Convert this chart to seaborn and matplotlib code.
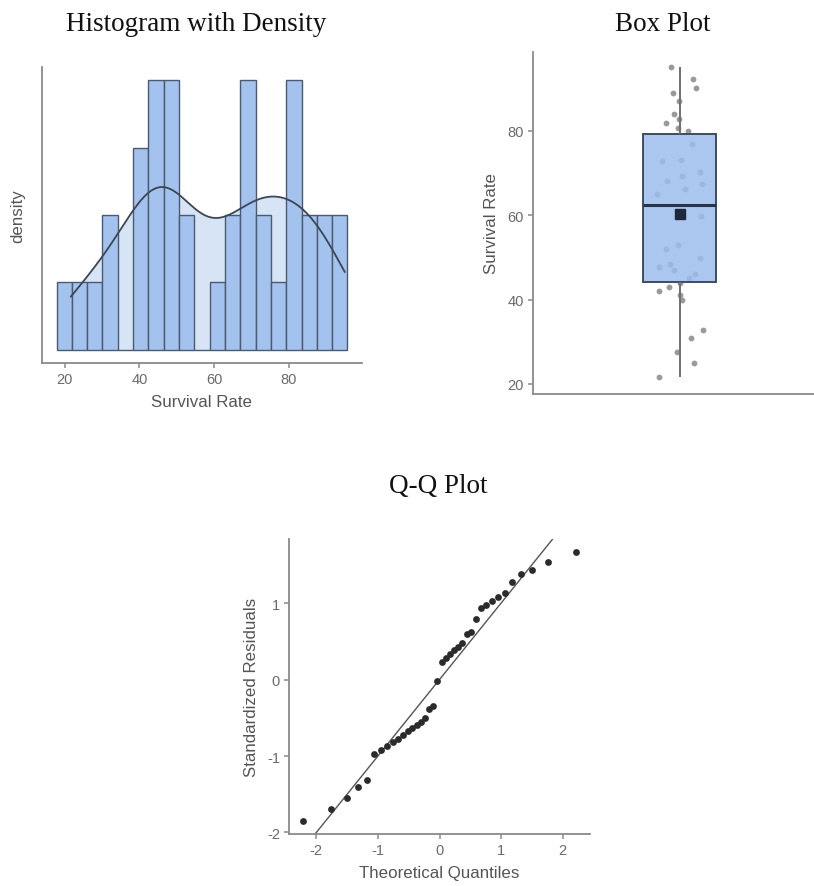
import numpy as np
import pandas as pd
import seaborn as sns
import matplotlib
matplotlib.use("Agg")
import matplotlib.pyplot as plt
from statistics import NormalDist

# Survival rate (%) for each of the 38 observations
survival_rate = [
    21.6, 24.9, 27.7, 30.8, 32.7,
    39.9, 41.0, 42.0, 43.0, 44.0, 45.0, 46.0, 46.9, 47.7, 48.5, 49.8,
    52.1, 52.9, 59.8,
    65.0, 66.2, 67.3, 68.2, 69.2, 70.2, 72.8, 73.1, 76.8,
    79.9, 80.6, 81.8, 82.8, 84.0, 87.0, 89.0, 90.2, 92.3, 95.0,
]
hist_ticks = [20, 40, 60, 80]
box_ticks = [20, 40, 60, 80]
qq_xticks = [-2, -1, 0, 1, 2]
qq_yticks = [-2, -1, 0, 1]

df = pd.DataFrame({"Survival Rate": survival_rate})
vals = df["Survival Rate"].to_numpy()
n = len(vals)

sns.set_theme(style="ticks")
plt.rcParams["font.family"] = ["Liberation Sans", "DejaVu Sans"]
plt.rcParams["axes.unicode_minus"] = False

SPINE = "#8a8a8a"
TICKTXT = "#6a6a6a"
LABEL = "#555555"
BAR = "#a4c2ee"
KDE_FILL = "#d7e4f6"
EDGE = "#4b5a6e"

fig = plt.figure(figsize=(8.14, 8.87), dpi=100)
W, H = 814, 887


def axes_px(l, t, r, b):
    return fig.add_axes([l / W, (H - b) / H, (r - l) / W, (b - t) / H])


def style(ax):
    for s in ("top", "right"):
        ax.spines[s].set_visible(False)
    for s in ("left", "bottom"):
        ax.spines[s].set_color(SPINE)
        ax.spines[s].set_linewidth(1.3)
    ax.tick_params(colors=SPINE, labelcolor=TICKTXT, labelsize=10.5,
                   length=3.5, width=1.1, pad=3)
    ax.grid(False)
    ax.set_facecolor("white")


def title(x, y, text):
    fig.text(x / W, (H - y) / H, text, ha="center", va="baseline",
             family="Liberation Serif", fontsize=19.5, color="#111111")


# ---------- Histogram with density ----------
ax1 = axes_px(42, 68, 362, 364)
style(ax1)
bin_lo, bin_hi, nbins = 17.8, 95.7, 19
sns.kdeplot(x=vals, ax=ax1, bw_adjust=0.9, cut=0, fill=True,
            color=KDE_FILL, alpha=1, linewidth=0, zorder=1)
sns.histplot(x=vals, ax=ax1, stat="density", bins=nbins,
             binrange=(bin_lo, bin_hi), color=BAR, alpha=1,
             edgecolor=EDGE, linewidth=1.0, zorder=2)
sns.kdeplot(x=vals, ax=ax1, bw_adjust=0.9, cut=0, color="#3c4655",
            linewidth=1.3, zorder=3)
peak = 4 / (n * (bin_hi - bin_lo) / nbins)
ax1.set_ylim(-0.05 * peak, 1.05 * peak)
span = bin_hi - bin_lo
ax1.set_xlim(bin_lo - 0.05 * span, bin_hi + 0.05 * span)
ax1.set_xticks(hist_ticks)
ax1.set_yticks([])
ax1.set_xlabel("Survival Rate", fontsize=12.2, color=LABEL, labelpad=6)
ax1.set_ylabel("density", fontsize=12.2, color=LABEL, labelpad=12)
title(196, 31, "Histogram with Density")

# ---------- Box plot ----------
ax2 = axes_px(533, 53, 814, 395)
style(ax2)
np.random.seed(7)
sns.stripplot(y=vals, ax=ax2, jitter=0.1, color="#9a9a9a", size=4.2,
              linewidth=0, zorder=1)
sns.boxplot(y=vals, ax=ax2, width=0.3, showfliers=False, showcaps=False,
            whis=1.5, color="#9cbded", linewidth=1.4, zorder=2,
            boxprops=dict(edgecolor="#3f4c5f"),
            medianprops=dict(color="#27344a", linewidth=2.2),
            whiskerprops=dict(color="#707070", linewidth=1.4))
for p in ax2.patches:
    p.set_facecolor((0.612, 0.741, 0.929, 0.85))
    p.set_zorder(2)
ax2.plot([0], [np.mean(vals)], marker="s", markersize=7.5,
         color="#1f2838", linestyle="none", zorder=4)
ax2.set_xlim(-0.604, 0.551)
rng = vals.max() - vals.min()
ax2.set_ylim(vals.min() - 0.05 * rng - 0.3, vals.max() + 0.05 * rng)
ax2.set_yticks(box_ticks)
ax2.set_xticks([])
ax2.set_xlabel("")
ax2.set_ylabel("Survival Rate", fontsize=12.2, color=LABEL, labelpad=6)
title(663, 31, "Box Plot")

# ---------- Q-Q plot ----------
ax3 = axes_px(289, 540, 590, 835)
style(ax3)
resid = np.sort((vals - vals.mean()) / vals.std(ddof=1))
nd = NormalDist()
theo = np.array([nd.inv_cdf((i - 0.5) / n) for i in range(1, n + 1)])
ax3.axline((0, 0), slope=1, color="#555555", linewidth=1.0, zorder=1)
sns.scatterplot(x=theo, y=resid, ax=ax3, color="#2b2b2b", s=24,
                linewidth=0, zorder=2)
tr = theo.max() - theo.min()
ax3.set_xlim(theo.min() - 0.05 * tr, theo.max() + 0.05 * tr)
rr = resid.max() - resid.min()
ax3.set_ylim(resid.min() - 0.05 * rr, resid.max() + 0.05 * rr)
ax3.set_xticks(qq_xticks)
ax3.set_yticks(qq_yticks)
ax3.set_xlabel("Theoretical Quantiles", fontsize=12.2, color=LABEL, labelpad=6)
ax3.set_ylabel("Standardized Residuals", fontsize=12.2, color=LABEL, labelpad=6)
title(438, 493, "Q-Q Plot")

fig.savefig("out.png", dpi=100, facecolor="white")
